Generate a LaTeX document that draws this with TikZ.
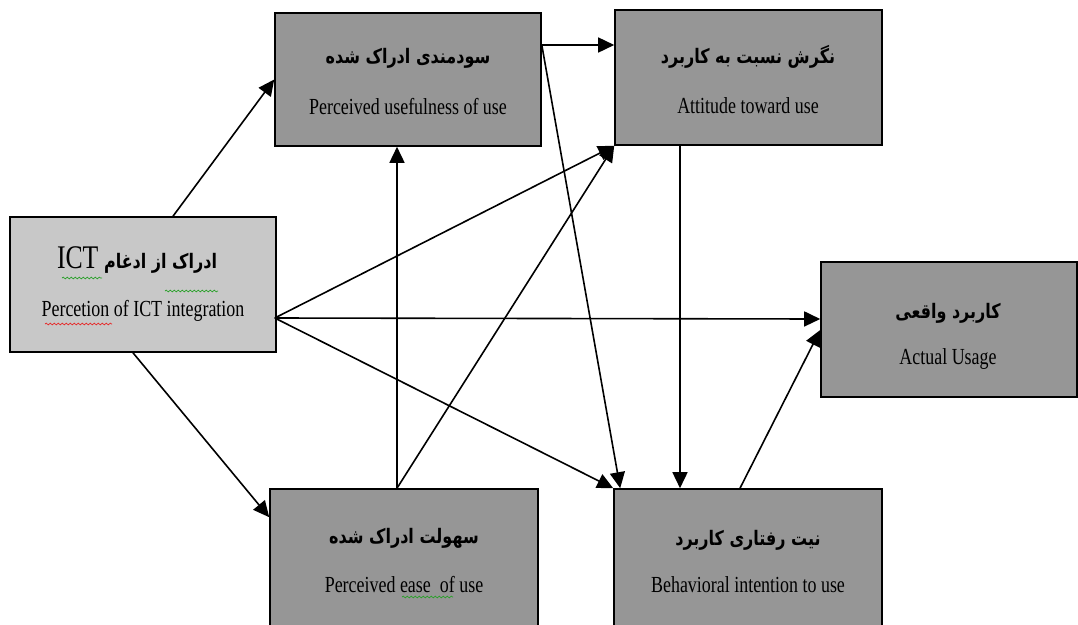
\documentclass[tikz,border=0pt]{standalone}
\usepackage{fontspec}
\setmainfont{Liberation Serif}
\newfontfamily\engfont[FakeStretch=0.78]{Liberation Serif}
\newfontfamily\fafont[Script=Arabic,FakeStretch=0.8]{DejaVu Sans Bold}
\TeXXeTstate=1
\usetikzlibrary{arrows.meta,calc,decorations.pathmorphing}
\definecolor{boxgray}{RGB}{150,150,150}
\definecolor{lightbox}{RGB}{200,200,200}
\definecolor{squiggreen}{RGB}{40,160,40}
\definecolor{squigred}{RGB}{230,40,40}
\tikzset{
  box/.style={draw=black, line width=1.6pt, fill=boxgray, inner sep=0pt},
  fa/.style={font=\fafont\fontsize{20}{24}\selectfont, inner sep=0pt},
  en/.style={font=\engfont\fontsize{23}{26}\selectfont, inner sep=0pt, anchor=base},
  arr/.style={line width=1.6pt, -{Triangle[length=16pt,width=15pt]}},
  squig/.style={decorate, decoration={snake, amplitude=0.9pt, segment length=4pt}, line width=0.7pt}
}
\begin{document}
\begin{tikzpicture}[x=1pt,y=-1pt]
\useasboundingbox (0,0) rectangle (1078,624);
\clip (0,0) rectangle (1078,624);
\fill[white] (0,0) rectangle (1078,624);
% boxes
\node[box, minimum width=266pt, minimum height=133pt] (pu) at (408,79.5) {};
\node[box, minimum width=267pt, minimum height=135pt] (atu) at (748.5,77.5) {};
\node[box, fill=lightbox, minimum width=266pt, minimum height=135pt] (ict) at (143,284.5) {};
\node[box, minimum width=256pt, minimum height=135pt] (au) at (949,329.5) {};
\node[box, minimum width=268pt, minimum height=151pt] (peou) at (404,564.5) {};
\node[box, minimum width=268pt, minimum height=151pt] (bi) at (748,564.5) {};
% texts
\node[fa] (pufa) at (408,58) {\beginR سودمندی ادراک شده\endR};
\node[en] (puen) at (408,114) {Perceived usefulness of use};
\node[fa] (atufa) at (748,57) {\beginR نگرش نسبت به کاربرد\endR};
\node[en] (atuen) at (748,113) {Attitude toward use};
\node[fa] (ictfa) at (137,260) {\beginR ادراک از ادغام \beginL{\engfont\fontsize{33}{36}\selectfont ICT}\endL\endR};
\node[en] (icten) at (143,316) {Percetion of ICT integration};
\node[fa] (aufa) at (948,313) {\beginR کاربرد واقعی\endR};
\node[en] (auen) at (948,364) {Actual Usage};
\node[fa] (peoufa) at (404,538) {\beginR سهولت ادراک شده\endR};
\node[en] (peouen) at (404,592) {Perceived ease\ \ of use};
\node[fa] (bifa) at (748,540) {\beginR نیت رفتاری کاربرد\endR};
\node[en] (bien) at (748,592) {Behavioral intention to use};
% spell-check squiggles
\draw[squig, squiggreen] (62,278) -- (102,278);
\draw[squig, squiggreen] (165,291) -- (218,291);
\draw[squig, squigred] (45,324) -- (112,324);
\draw[squig, squiggreen] (402,597) -- (453,597);
% connector end points
\coordinate (icto) at ($(ict.east)+(-2,33.5)$);
\coordinate (peouo) at ($(peou.north)+(-7,0)$);
\coordinate (puo) at ($(pu.east)+(0,-34.5)$);
% connectors
\draw[arr] ($(ict.north)+(30,0)$) -- (pu.west);
\draw[arr] ($(ict.south)+(-10,0)$) -- ($(peou.north west)+(0,29)$);
\draw[arr] (icto) -- (atu.south west);
\draw[arr] (icto) -- ($(au.west)+(0,-10.5)$);
\draw[arr] (icto) -- (bi.north west);
\draw[arr] (peouo) -- ($(pu.south)+(-11,0)$);
\draw[arr] (peouo) -- (atu.south west);
\draw[arr] (puo) -- ($(atu.west)+(0,-32.5)$);
\draw[arr] (puo) -- ($(bi.north west)+(7,0)$);
\draw[arr] ($(atu.south)+(-68.5,0)$) -- ($(bi.north)+(-68,0)$);
\draw[arr] ($(bi.north)+(-8,0)$) -- ($(au.west)+(0,0.5)$);
\end{tikzpicture}
\end{document}
